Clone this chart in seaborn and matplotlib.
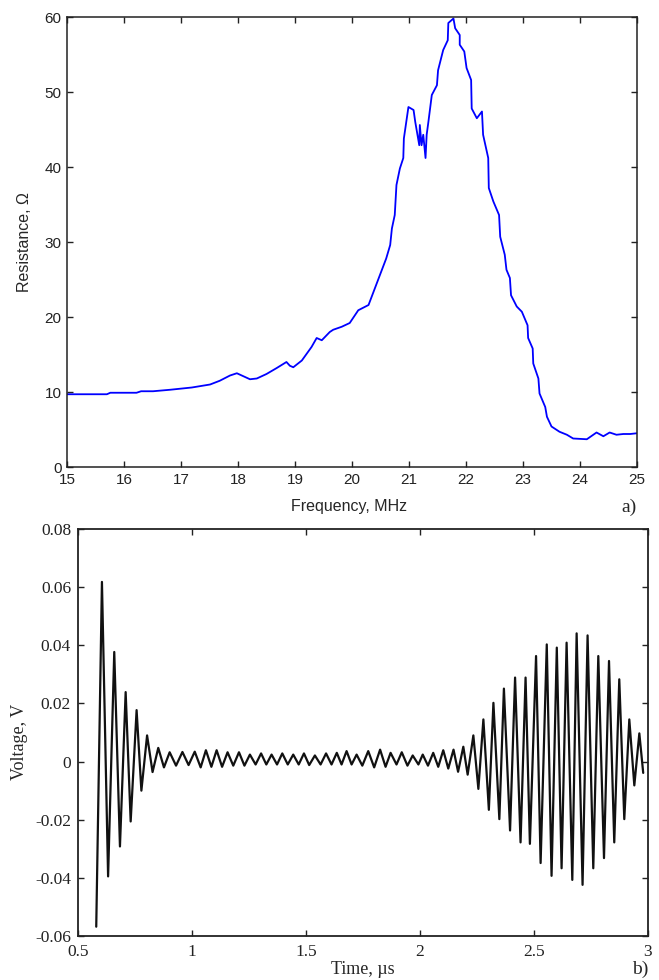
import matplotlib
matplotlib.use("Agg")
import matplotlib.pyplot as plt
import pandas as pd
import seaborn as sns

# --------------------------------------------------------------------------
# data
# --------------------------------------------------------------------------
# a) resistance vs frequency
freq_mhz = [15.0, 15.7, 15.76, 16.22, 16.3, 16.51, 16.81, 17.19, 17.51, 17.68,
            17.86, 17.98, 18.21, 18.33, 18.5, 18.68, 18.85, 18.91, 18.97, 19.12,
            19.29, 19.38, 19.47, 19.61, 19.67, 19.82, 19.96, 20.11, 20.29, 20.40,
            20.49, 20.60, 20.67, 20.70, 20.75, 20.78, 20.84, 20.90, 20.91, 20.99,
            21.08, 21.11, 21.18, 21.19, 21.22, 21.25, 21.29, 21.31, 21.34, 21.40,
            21.49, 21.51, 21.60, 21.68, 21.69, 21.78, 21.81, 21.89, 21.89, 21.97,
            22.01, 22.09, 22.10, 22.19, 22.28, 22.30, 22.39, 22.40, 22.48, 22.58,
            22.60, 22.68, 22.71, 22.77, 22.79, 22.89, 22.98, 23.08, 23.09, 23.17,
            23.18, 23.27, 23.29, 23.39, 23.42, 23.50, 23.64, 23.77, 23.88, 24.12,
            24.29, 24.41, 24.52, 24.64, 24.76, 24.88, 25.0]
resistance_ohm = [9.7, 9.7, 9.9, 9.9, 10.1, 10.1, 10.3, 10.6, 11.0, 11.5,
                  12.2, 12.5, 11.7, 11.8, 12.4, 13.2, 14.0, 13.5, 13.3, 14.2,
                  16.0, 17.2, 16.9, 18.0, 18.3, 18.7, 19.2, 20.9, 21.6, 23.8,
                  25.6, 27.8, 29.6, 31.8, 33.6, 37.6, 39.8, 41.2, 43.8, 48.0,
                  47.6, 46.0, 42.9, 45.6, 42.9, 44.3, 41.2, 44.3, 46.0, 49.6,
                  50.9, 52.9, 55.6, 56.9, 59.2, 59.8, 58.5, 57.6, 56.3, 55.4,
                  53.2, 51.6, 47.8, 46.5, 47.4, 44.3, 41.2, 37.2, 35.4, 33.6,
                  30.7, 28.3, 26.3, 25.2, 22.9, 21.4, 20.7, 18.9, 17.2, 15.8,
                  13.8, 11.8, 9.8, 8.0, 6.7, 5.4, 4.7, 4.3, 3.8, 3.7,
                  4.6, 4.1, 4.6, 4.3, 4.4, 4.4, 4.5]

# b) voltage vs time (peaks and troughs of the trace)
time_us = [0.580, 0.605, 0.632, 0.659, 0.684, 0.709, 0.731, 0.757, 0.778, 0.803,
           0.827, 0.852, 0.877, 0.902, 0.930, 0.958, 0.985, 1.012, 1.038, 1.061,
           1.085, 1.108, 1.132, 1.156, 1.181, 1.206, 1.230, 1.254, 1.279, 1.303,
           1.326, 1.349, 1.373, 1.396, 1.420, 1.444, 1.468, 1.491, 1.514, 1.539,
           1.564, 1.588, 1.612, 1.635, 1.656, 1.678, 1.700, 1.722, 1.747, 1.773,
           1.799, 1.825, 1.849, 1.871, 1.897, 1.920, 1.945, 1.968, 1.993, 2.012,
           2.035, 2.058, 2.080, 2.102, 2.124, 2.147, 2.167, 2.190, 2.209, 2.234,
           2.256, 2.278, 2.302, 2.322, 2.348, 2.368, 2.395, 2.417, 2.441, 2.463,
           2.482, 2.509, 2.529, 2.556, 2.577, 2.600, 2.621, 2.643, 2.668, 2.687,
           2.713, 2.735, 2.760, 2.782, 2.807, 2.829, 2.852, 2.874, 2.896, 2.918,
           2.940, 2.962, 2.979]
voltage_v = [-0.0568, 0.0618, -0.0395, 0.0377, -0.0292, 0.0239, -0.0206, 0.0177, -0.0100, 0.0090,
             -0.0036, 0.0047, -0.0020, 0.0032, -0.0014, 0.0033, -0.0012, 0.0034, -0.0020, 0.0039,
             -0.0018, 0.0039, -0.0018, 0.0032, -0.0014, 0.0032, -0.0014, 0.0024, -0.0010, 0.0028,
             -0.0010, 0.0024, -0.0010, 0.0028, -0.0010, 0.0024, -0.0010, 0.0028, -0.0012, 0.0021,
             -0.0010, 0.0028, -0.0010, 0.0030, -0.0010, 0.0036, -0.0010, 0.0024, -0.0014, 0.0036,
             -0.0020, 0.0041, -0.0018, 0.0030, -0.0010, 0.0032, -0.0014, 0.0021, -0.0010, 0.0024,
             -0.0014, 0.0030, -0.0018, 0.0039, -0.0024, 0.0041, -0.0035, 0.0051, -0.0045, 0.0090,
             -0.0094, 0.0145, -0.0166, 0.0202, -0.0198, 0.0251, -0.0237, 0.0289, -0.0278, 0.0289,
             -0.0283, 0.0363, -0.0349, 0.0403, -0.0393, 0.0392, -0.0367, 0.0409, -0.0407, 0.0441,
             -0.0424, 0.0434, -0.0367, 0.0363, -0.0332, 0.0346, -0.0278, 0.0283, -0.0198, 0.0145,
             -0.0082, 0.0097, -0.0039]

# tick labels
xticks_a = list(range(15, 26))
yticks_a = [0, 10, 20, 30, 40, 50, 60]
xticks_b = [0.5, 1, 1.5, 2, 2.5, 3]
xlabels_b = ['0.5', '1', '1.5', '2', '2.5', '3']
yticks_b = [-0.06, -0.04, -0.02, 0, 0.02, 0.04, 0.06, 0.08]
ylabels_b = ['-0.06', '-0.04', '-0.02', '0', '0.02', '0.04', '0.06', '0.08']

# --------------------------------------------------------------------------
# plot
# --------------------------------------------------------------------------
sns.set_theme(style='ticks', rc={'xtick.direction': 'in', 'ytick.direction': 'in',
                                 'xtick.top': True, 'ytick.right': True,
                                 'axes.unicode_minus': False,
                                 'axes.edgecolor': '#222222'})
sans = 'Liberation Sans'
serif = 'Liberation Serif'

W, H = 659, 980
fig = plt.figure(figsize=(W / 100, H / 100), dpi=100)
ax_a = fig.add_axes([67 / W, 1 - 467 / H, 570 / W, 450 / H])
ax_b = fig.add_axes([78 / W, 1 - 936 / H, 570 / W, 407 / H])

# a) resistance
df_a = pd.DataFrame({'Frequency': freq_mhz, 'Resistance': resistance_ohm})
sns.lineplot(data=df_a, x='Frequency', y='Resistance', sort=False, estimator=None,
             color='#0000ff', linewidth=1.3, ax=ax_a)
ax_a.set_xlim(15, 25)
ax_a.set_ylim(0, 60)
ax_a.set_xticks(xticks_a, [str(v) for v in xticks_a], fontfamily=sans, fontsize=11)
ax_a.set_yticks(yticks_a, [str(v) for v in yticks_a], fontfamily=sans, fontsize=11)
ax_a.tick_params(length=4, width=1, pad=4, colors='#222222')
ax_a.set_xlabel('Frequency, MHz', fontfamily=sans, fontsize=11.5, va='center')
ax_a.set_ylabel('Resistance, \u03a9', fontfamily=sans, fontsize=11.5, va='center')
ax_a.xaxis.set_label_coords(0.495, -0.087)
ax_a.yaxis.set_label_coords(-0.075, 0.5)
for s in ax_a.spines.values():
    s.set_linewidth(1.1)
fig.text(629 / W, 1 - 507 / H, 'a)', fontfamily=serif, fontsize=14,
         ha='center', va='center')

# b) voltage
df_b = pd.DataFrame({'Time': time_us, 'Voltage': voltage_v})
sns.lineplot(data=df_b, x='Time', y='Voltage', sort=False, estimator=None,
             color='#111111', linewidth=1.6, ax=ax_b)
ax_b.set_xlim(0.5, 3)
ax_b.set_ylim(-0.06, 0.08)
ax_b.set_xticks(xticks_b, xlabels_b, fontfamily=serif, fontsize=12.5)
ax_b.set_yticks(yticks_b, ylabels_b, fontfamily=serif, fontsize=12.5)
ax_b.tick_params(axis='x', length=4, width=1, pad=6, colors='#222222')
ax_b.tick_params(axis='y', length=4, width=1, pad=5, colors='#222222')
ax_b.set_xlabel('Time, \u00b5s', fontfamily=serif, fontsize=13, va='center')
ax_b.set_ylabel('Voltage, V', fontfamily=serif, fontsize=13, va='center')
ax_b.xaxis.set_label_coords(0.5, -0.083)
ax_b.yaxis.set_label_coords(-0.102, 0.477)
for s in ax_b.spines.values():
    s.set_linewidth(1.3)
fig.text(640 / W, 1 - 969 / H, 'b)', fontfamily=serif, fontsize=14,
         ha='center', va='center')

fig.savefig('out.png', dpi=100)
